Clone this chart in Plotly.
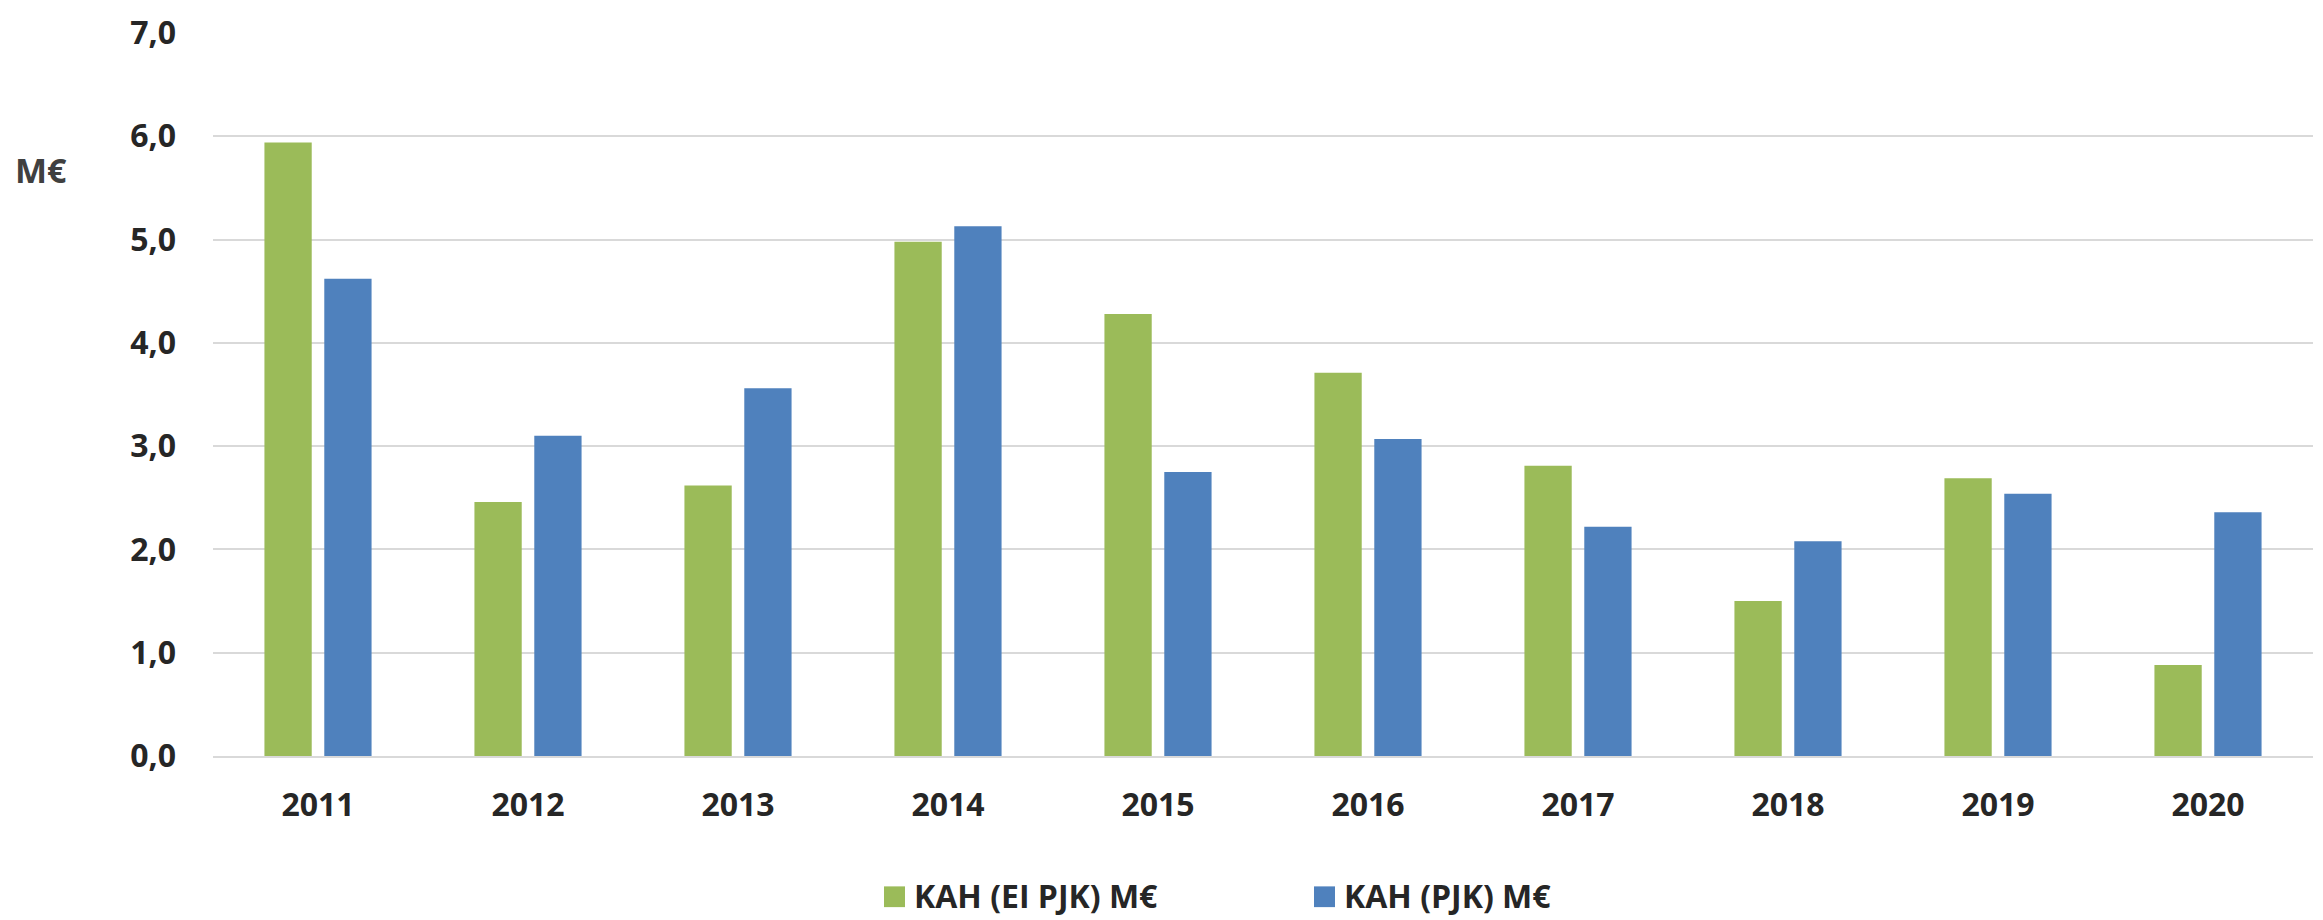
import plotly.graph_objects as go

years = ["2011", "2012", "2013", "2014", "2015", "2016", "2017", "2018", "2019", "2020"]
kah_ei_pjk = [5.94, 2.46, 2.62, 4.98, 4.28, 3.71, 2.81, 1.50, 2.69, 0.88]
kah_pjk = [4.62, 3.10, 3.56, 5.13, 2.75, 3.07, 2.22, 2.08, 2.54, 2.36]
series_names = ["KAH (EI PJK) M€", "KAH (PJK) M€"]
y_ticks = [0, 1, 2, 3, 4, 5, 6, 7]
y_unit = "M€"

GREEN = "#9BBB59"
BLUE = "#4F81BD"
TXT = "#262626"
FONT = "Open Sans"

W, H = 2323, 920
ML, MR, MT, MB = 213, 10, 24, 164


def px_x(px):
    return (px - ML) / (W - ML - MR)


def px_y(py):
    return (H - MB - py) / (H - MT - MB)


fig = go.Figure()
fig.add_trace(go.Bar(x=years, y=kah_ei_pjk, name=series_names[0],
                     marker=dict(color=GREEN, line=dict(width=0)), showlegend=False))
fig.add_trace(go.Bar(x=years, y=kah_pjk, name=series_names[1],
                     marker=dict(color=BLUE, line=dict(width=0)), showlegend=False))

# manual legend
legend_items = [(series_names[0], GREEN, 884), (series_names[1], BLUE, 1314)]
shapes = []
annotations = []
for name, col, x0 in legend_items:
    shapes.append(dict(type="rect", xref="paper", yref="paper",
                       x0=px_x(x0), x1=px_x(x0 + 21), y0=px_y(909), y1=px_y(888),
                       fillcolor=col, line=dict(width=0)))
    annotations.append(dict(text=name, xref="paper", yref="paper",
                            x=px_x(x0 + 28), y=px_y(897), xanchor="left", yanchor="middle",
                            showarrow=False,
                            font=dict(family=FONT, size=32, color=TXT, weight="bold")))

annotations.append(dict(text=y_unit, xref="paper", yref="paper",
                        x=px_x(41), y=px_y(163), xanchor="center", yanchor="middle",
                        showarrow=False,
                        font=dict(family=FONT, size=34, color="#404040", weight="bold")))

fig.update_layout(
    width=W, height=H,
    margin=dict(l=ML, r=MR, t=MT, b=MB, pad=0),
    paper_bgcolor="white", plot_bgcolor="white",
    barmode="group", bargap=0.43, bargroupgap=0.21,
    separators=", ",
    shapes=shapes, annotations=annotations,
    showlegend=False,
    xaxis=dict(showgrid=False, showline=True, linecolor="#D9D9D9", linewidth=2,
               ticks="", ticklabelstandoff=20,
               tickfont=dict(family=FONT, size=32, color=TXT, weight="bold")),
    yaxis=dict(range=[0, 7], tickvals=y_ticks, tickformat=".1f",
               showgrid=True, gridcolor="#D9D9D9", gridwidth=2,
               zeroline=False, showline=False, ticks="", ticklabelstandoff=36,
               tickfont=dict(family=FONT, size=32, color=TXT, weight="bold")),
)

fig.write_html(
    "out.html",
    config={"displayModeBar": False},
    post_script="document.body.style.margin='0';document.body.style.overflow='hidden';",
)
